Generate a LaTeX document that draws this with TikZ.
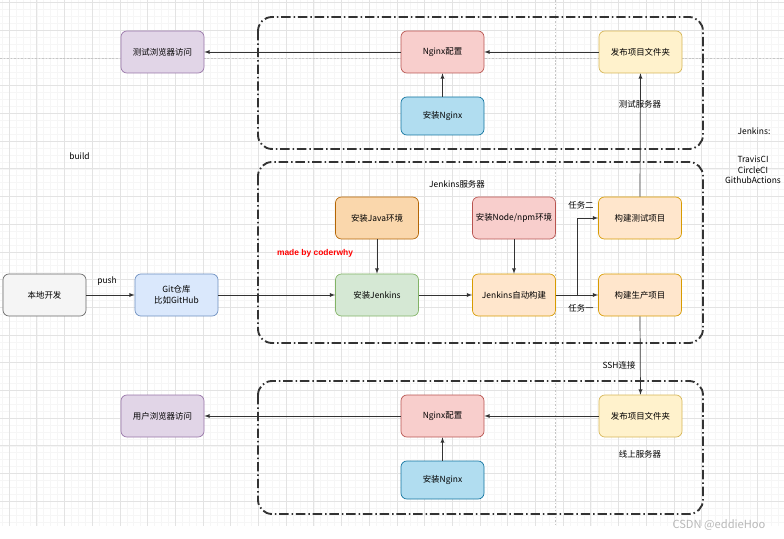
\documentclass[tikz,border=0pt]{standalone}
\usepackage{fontspec}
\setmainfont{Noto Sans CJK SC}
\newfontfamily\latinbold{Liberation Sans}
\usetikzlibrary{arrows}

\definecolor{greyfill}{HTML}{F5F5F5}\definecolor{greydraw}{HTML}{666666}
\definecolor{purplefill}{HTML}{E1D5E7}\definecolor{purpledraw}{HTML}{9673A6}
\definecolor{redfill}{HTML}{F8CECC}\definecolor{reddraw}{HTML}{B85450}
\definecolor{yellowfill}{HTML}{FFF2CC}\definecolor{yellowdraw}{HTML}{D6B656}
\definecolor{bluefill}{HTML}{B1DDF0}\definecolor{bluedraw}{HTML}{10739E}
\definecolor{gitfill}{HTML}{DAE8FC}\definecolor{gitdraw}{HTML}{6C8EBF}
\definecolor{javafill}{HTML}{FAD7AC}\definecolor{javadraw}{HTML}{B46504}
\definecolor{greenfill}{HTML}{D5E8D4}\definecolor{greendraw}{HTML}{82B366}
\definecolor{buildfill}{HTML}{FFE6CC}\definecolor{builddraw}{HTML}{D79B00}
\definecolor{linegrey}{HTML}{333333}

\begin{document}
\begin{tikzpicture}[x=0.03cm,y=-0.03cm,
    font=\fontsize{7.2}{9}\selectfont,
    box/.style={draw,rounded corners=5pt,minimum width=2.49cm,minimum height=1.26cm,
        align=center,inner sep=1pt,line width=0.6pt},
    lowbox/.style={box,minimum height=1.14cm},
    group/.style={draw=linegrey,line width=1.6pt,rounded corners=12pt,
        dash pattern=on 8pt off 2.5pt on 1.3pt off 2.5pt},
    flow/.style={draw=linegrey,line width=0.6pt,-latex},
    gridminor/.style={gray!7,line width=0.3pt},
    gridmajor/.style={gray!22,line width=0.4pt},
    guide/.style={gray!45,line width=0.4pt,dash pattern=on 1.5pt off 1.5pt}]
    \useasboundingbox (0,0) rectangle (784,539);
    % background grid
    \foreach \k in {0,...,113} \draw[gridminor] ({2.075+6.925*\k},0) -- ({2.075+6.925*\k},526);
    \foreach \k in {0,...,75} \draw[gridminor] (0,{2.5+6.925*\k}) -- (784,{2.5+6.925*\k});
    \foreach \k in {0,...,27} \draw[gridmajor] ({9+27.7*\k},0) -- ({9+27.7*\k},526);
    \foreach \k in {0,...,18} \draw[gridmajor] (0,{2.5+27.7*\k}) -- (784,{2.5+27.7*\k});
    \draw[guide] (555,0) -- (555,526);
    \draw[guide] (0,58) -- (784,58);
    % server groups
    \draw[group] (258,17) rectangle (703,149);
    \draw[group] (258,162) rectangle (703,343);
    \draw[group] (258,381) rectangle (703,514);
    % test server
    \node[box,fill=purplefill,draw=purpledraw] (testbrowser) at (162.5,52) {测试浏览器访问};
    \node[box,fill=redfill,draw=reddraw] (testnginxconf) at (442.5,52) {Nginx配置};
    \node[box,fill=yellowfill,draw=yellowdraw] (testpublish) at (640.5,52) {发布项目文件夹};
    \node[lowbox,fill=bluefill,draw=bluedraw] (testnginx) at (442.5,116) {安装Nginx};
    % jenkins server
    \node[box,fill=greyfill,draw=greydraw] (local) at (44.5,295) {本地开发};
    \node[box,fill=gitfill,draw=gitdraw] (git) at (176.5,295) {Git仓库\\比如GitHub};
    \node[box,fill=javafill,draw=javadraw] (java) at (377,218) {安装Java环境};
    \node[box,fill=greenfill,draw=greendraw] (jenkins) at (377,295) {安装Jenkins};
    \node[box,fill=redfill,draw=reddraw] (node) at (514,218) {安装Node/npm环境};
    \node[box,fill=buildfill,draw=builddraw] (autobuild) at (514,295) {Jenkins自动构建};
    \node[box,fill=buildfill,draw=builddraw] (buildtest) at (640,218) {构建测试项目};
    \node[box,fill=buildfill,draw=builddraw] (buildprod) at (640,295) {构建生产项目};
    % online server
    \node[box,fill=purplefill,draw=purpledraw] (userbrowser) at (162.5,416) {用户浏览器访问};
    \node[box,fill=redfill,draw=reddraw] (prodnginxconf) at (442.5,416) {Nginx配置};
    \node[box,fill=yellowfill,draw=yellowdraw] (prodpublish) at (640.5,416) {发布项目文件夹};
    \node[lowbox,fill=bluefill,draw=bluedraw] (prodnginx) at (442.5,480) {安装Nginx};
    % connectors
    \draw[flow] (testnginxconf) -- (testbrowser);
    \draw[flow] (testpublish) -- (testnginxconf);
    \draw[flow] (testnginx) -- (testnginxconf);
    \draw[flow] (local) -- (git);
    \draw[flow] (git) -- (jenkins);
    \draw[flow] (java) -- (jenkins);
    \draw[flow] (jenkins) -- (autobuild);
    \draw[flow] (node) -- (autobuild);
    \draw[flow] (autobuild) -- (buildprod);
    \draw[flow] (autobuild.east) -- ++(21,0) |- (buildtest.west);
    \draw[flow] (buildtest.north) -- (testpublish.south);
    \draw[flow] (buildprod.south) -- (prodpublish.north);
    \draw[flow] (prodnginxconf) -- (userbrowser);
    \draw[flow] (prodpublish) -- (prodnginxconf);
    \draw[flow] (prodnginx) -- (prodnginxconf);
    % labels
    \node (push) at (107,281) {push};
    \node (build) at (79.5,156) {build};
    \node[text=red] (made) at (315,253) {\latinbold\bfseries made by coderwhy};
    \node (jenkinsserver) at (457,184) {Jenkins服务器};
    \node (testserver) at (640,104) {测试服务器};
    \node (task2) at (581,205) {任务二};
    \node (task1) at (581,308) {任务一};
    \node (ssh) at (619,365) {SSH连接};
    \node (onlineserver) at (640,454) {线上服务器};
    \node (jenkinsnote) at (754,131) {Jenkins:};
    \node[align=center,inner sep=0pt] (cinote) at (753,170) {TravisCI\\CircleCI\\GithubActions};
    \node[text=gray!55,font=\fontsize{9.5}{11}\selectfont] (csdn) at (719,525) {CSDN @eddieHoo};
\end{tikzpicture}
\end{document}
